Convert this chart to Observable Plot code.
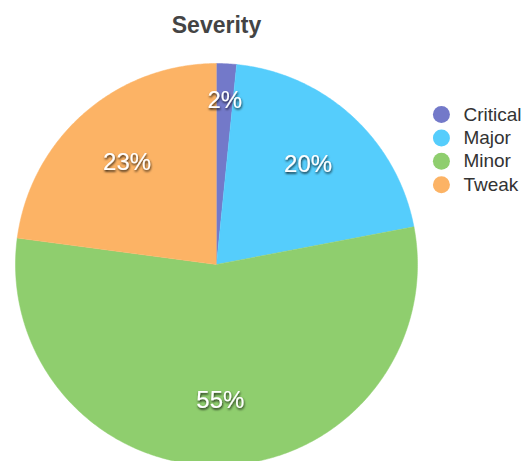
<!DOCTYPE html>
<html><head><meta charset="utf-8">
<script src="https://cdn.jsdelivr.net/npm/d3@7"></script>
<script src="https://cdn.jsdelivr.net/npm/@observablehq/plot@0.6"></script>
<style>
html,body{margin:0;padding:0;background:#fff;overflow:hidden}
</style></head><body><div id="chart"></div>
<script>
const title = "Severity";
const categories = ["Critical", "Major", "Minor", "Tweak"];
const values = [1.6, 20.4, 55.1, 22.9];
const colors = ["#7379c9", "#55cdfc", "#8fce6e", "#fcb365"];

const total = d3.sum(values);
let acc = 0;
const slices = categories.map((c, i) => {
  const a0 = acc / total * 2 * Math.PI;
  acc += values[i];
  const a1 = acc / total * 2 * Math.PI;
  return {category: c, value: values[i], frac: values[i] / total, a0, a1};
});
const polys = slices.flatMap(s => {
  const n = Math.max(2, Math.ceil((s.a1 - s.a0) / 0.01));
  const pts = [{category: s.category, x: 0, y: 0}];
  for (let k = 0; k <= n; k++) {
    const a = s.a0 + (s.a1 - s.a0) * k / n;
    pts.push({category: s.category, x: Math.sin(a), y: Math.cos(a)});
  }
  return pts;
});
const labels = slices.map(s => {
  const a = (s.a0 + s.a1) / 2;
  const r = s.frac < 0.05 ? 0.82 : 0.675;
  return {label: Math.round(s.frac * 100) + "%", x: r * Math.sin(a), y: r * Math.cos(a)};
});
const legend = categories.map((c, i) => ({category: c, x: 1.119, y: 0.746 - i * 0.1164}));

const chart = Plot.plot({
  width: 525,
  height: 461,
  margin: 0,
  style: {fontFamily: "'Liberation Sans', Arial, sans-serif", background: "#fff"},
  x: {domain: [-1, 1], range: [15, 417], axis: null},
  y: {domain: [-1, 1], range: [465, 63], axis: null},
  color: {domain: categories, range: colors},
  marks: [
    Plot.line(polys, {x: "x", y: "y", z: "category", fill: "category", stroke: "category", strokeWidth: 0.5, curve: "linear"}),
    Plot.text(labels, {x: "x", y: "y", text: "label", fill: "white", fontSize: 24, lineAnchor: "middle"}),
    Plot.text([title], {x: () => 0, frameAnchor: "top", dy: 25, lineAnchor: "middle", fontSize: 23, fontWeight: 600, fill: "#444"}),
    Plot.dot(legend, {x: "x", y: "y", r: 8.5, fill: "category"}),
    Plot.text(legend, {x: "x", y: "y", text: "category", dx: 22, textAnchor: "start", lineAnchor: "middle", fontSize: 19, fill: "#333"})
  ]
});
const svg = d3.select(chart);
const f = svg.insert("defs", ":first-child").append("filter").attr("id", "lblShadow")
  .attr("x", "-20%").attr("y", "-30%").attr("width", "140%").attr("height", "160%");
f.append("feDropShadow").attr("dx", 0.6).attr("dy", 1.6).attr("stdDeviation", 0.9)
  .attr("flood-color", "#000").attr("flood-opacity", 0.85);
svg.selectAll("text").filter(function() {
  const own = this.getAttribute("fill");
  const par = this.parentNode && this.parentNode.getAttribute && this.parentNode.getAttribute("fill");
  return own === "white" || (!own && par === "white");
}).attr("filter", "url(#lblShadow)");
document.getElementById("chart").appendChild(chart);
</script></body></html>
